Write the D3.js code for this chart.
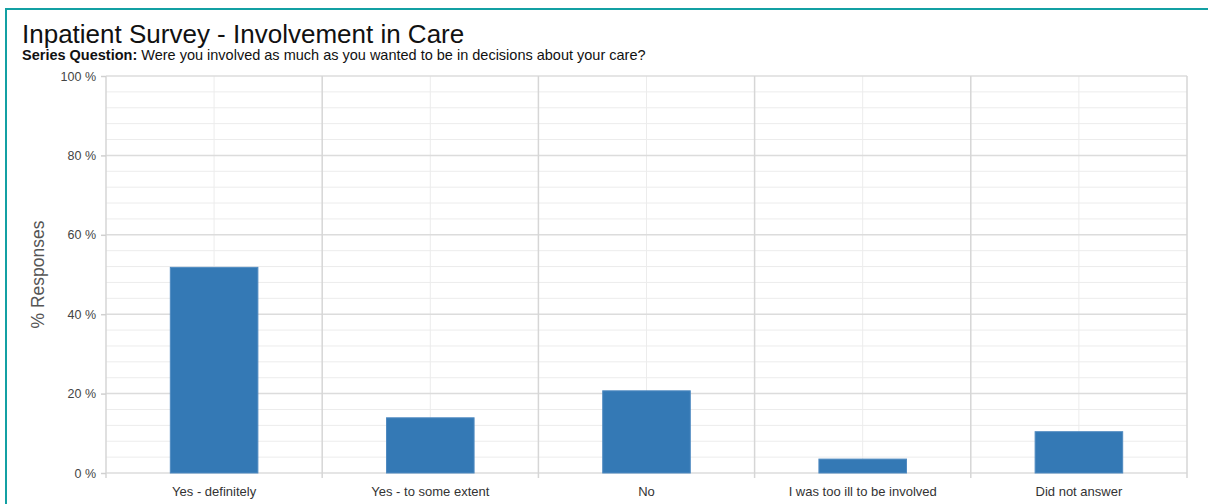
<!DOCTYPE html>
<html>
<head>
<meta charset="utf-8">
<script src="https://cdn.jsdelivr.net/npm/d3@7/dist/d3.min.js"></script>
<style>
  html, body { margin: 0; padding: 0; background: #fff; }
  svg { display: block; font-family: "Liberation Sans", Arial, sans-serif; }
</style>
</head>
<body>
<svg id="chart" width="1208" height="504"></svg>
<script>
// Survey responses (percent of respondents)
const categories = ["Yes - definitely", "Yes - to some extent", "No", "I was too ill to be involved", "Did not answer"];
const values = [51.8, 13.9, 20.7, 3.5, 10.4];
const yTicks = [0, 20, 40, 60, 80, 100];
const yMinorTicks = d3.range(0, 101, 4);

const svg = d3.select("#chart");
const W = 1208, H = 504;
const margin = { left: 106, right: 21, top: 76, bottom: 31 };
const plotW = W - margin.left - margin.right;
const plotH = H - margin.top - margin.bottom;

// card border
svg.append("rect")
  .attr("x", 6).attr("y", 9).attr("width", W + 10).attr("height", H + 10)
  .attr("fill", "none").attr("stroke", "#13a0a3").attr("stroke-width", 2);

// titles
svg.append("text").attr("x", 22).attr("y", 43)
  .attr("font-size", 26).attr("fill", "#111")
  .text("Inpatient Survey - Involvement in Care");
const sub = svg.append("text").attr("x", 22).attr("y", 60)
  .attr("font-size", 14.5).attr("fill", "#111");
sub.append("tspan").attr("font-weight", "bold").text("Series Question:");
sub.append("tspan").text(" Were you involved as much as you wanted to be in decisions about your care?");

const g = svg.append("g").attr("transform", `translate(${margin.left},${margin.top})`);

const x = d3.scaleBand().domain(categories).range([0, plotW]).paddingInner(0).paddingOuter(0);
const y = d3.scaleLinear().domain([0, 100]).range([plotH, 0]);

// minor horizontal grid
g.append("g").selectAll("line").data(yMinorTicks.filter(t => t % 20 !== 0)).join("line")
  .attr("x1", 0).attr("x2", plotW)
  .attr("y1", d => y(d)).attr("y2", d => y(d))
  .attr("stroke", "#ececec").attr("stroke-width", 1);

// vertical centre lines
g.append("g").selectAll("line").data(categories).join("line")
  .attr("x1", d => x(d) + x.bandwidth() / 2).attr("x2", d => x(d) + x.bandwidth() / 2)
  .attr("y1", 0).attr("y2", plotH)
  .attr("stroke", "#ececec").attr("stroke-width", 1);

// major horizontal grid
g.append("g").selectAll("line").data(yTicks).join("line")
  .attr("x1", 0).attr("x2", plotW)
  .attr("y1", d => y(d)).attr("y2", d => y(d))
  .attr("stroke", "#dcdcdc").attr("stroke-width", 1.5);

// category boundary lines
const bounds = categories.map(c => x(c)).concat([plotW]);
g.append("g").selectAll("line").data(bounds).join("line")
  .attr("x1", d => d).attr("x2", d => d)
  .attr("y1", 0).attr("y2", plotH + 5)
  .attr("stroke", "#d6d6d6").attr("stroke-width", 1.5);

// bars
const barW = x.bandwidth() * 0.405;
g.append("g").selectAll("rect").data(categories).join("rect")
  .attr("x", d => x(d) + (x.bandwidth() - barW) / 2)
  .attr("y", (d, i) => y(values[i]))
  .attr("width", barW)
  .attr("height", (d, i) => plotH - y(values[i]))
  .attr("fill", "#3479b5").attr("stroke", "#4f8ac0").attr("stroke-width", 1);

// y axis
const yAxis = g.append("g")
  .call(d3.axisLeft(y).tickValues(yTicks).tickFormat(d => d + " %").tickSize(5).tickPadding(5));
yAxis.select(".domain").remove();
yAxis.selectAll(".tick line").attr("stroke", "#d0d0d0").attr("stroke-width", 1.5);
yAxis.selectAll(".tick text").attr("font-size", 12.5).attr("fill", "#444")
  .attr("font-family", "Liberation Sans, Arial, sans-serif");

// x axis labels
const xAxis = g.append("g").attr("transform", `translate(0,${plotH})`)
  .call(d3.axisBottom(x).tickSize(0).tickPadding(14));
xAxis.select(".domain").remove();
xAxis.selectAll(".tick text").attr("font-size", 13).attr("fill", "#333")
  .attr("font-family", "Liberation Sans, Arial, sans-serif");

// y axis title
svg.append("text")
  .attr("transform", `translate(44,${margin.top + plotH / 2}) rotate(-90)`)
  .attr("text-anchor", "middle").attr("font-size", 17.5).attr("fill", "#555")
  .text("% Responses");
</script>
</body>
</html>
